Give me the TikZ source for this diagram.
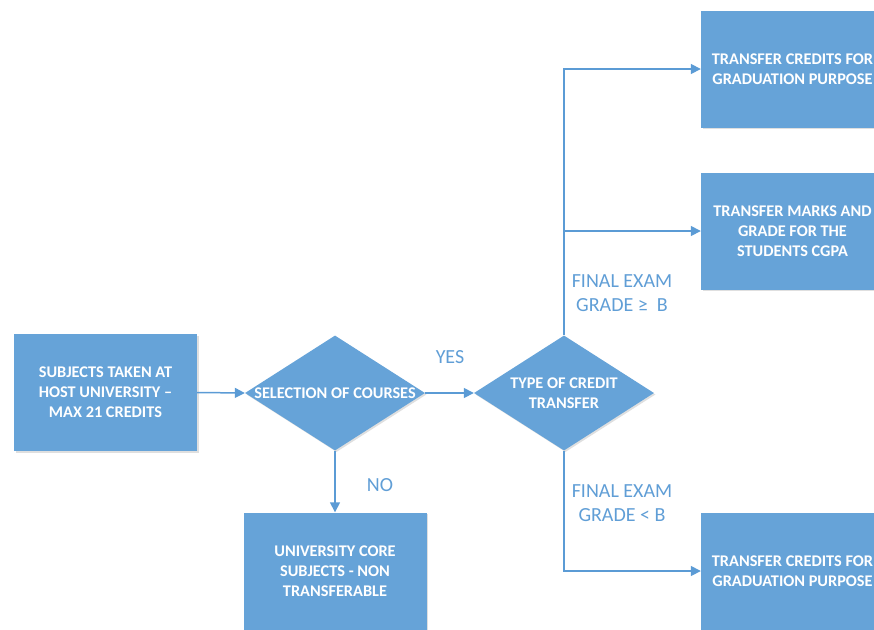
\documentclass[tikz,border=0pt]{standalone}
\usepackage{fontspec}
\setmainfont{Carlito}
\usetikzlibrary{positioning,shapes.geometric,arrows.meta,shadows}
\definecolor{flowblue}{RGB}{91,155,213}
\definecolor{boxblue}{RGB}{102,163,216}
\definecolor{labelblue}{RGB}{96,158,214}

\begin{document}
\begin{tikzpicture}[x=1pt,y=-1pt,
	box/.style={rectangle, fill=boxblue, text=white, minimum width=183pt, minimum height=117pt, align=center, font=\fontsize{16.3}{20}\selectfont\bfseries, drop shadow={shadow xshift=1.5pt, shadow yshift=-1.5pt, opacity=0.25}},
	decision/.style={diamond, fill=boxblue, minimum width=180pt, minimum height=115pt, inner sep=0pt, drop shadow={shadow xshift=1.5pt, shadow yshift=-1.5pt, opacity=0.25}},
	dtext/.style={text=white, align=center, font=\fontsize{16.3}{20}\selectfont\bfseries},
	flow/.style={draw=flowblue, line width=1.5pt, -{Triangle[length=10pt,width=10pt]}},
	cond/.style={text=labelblue, align=center, font=\fontsize{20}{24}\selectfont}]
				\useasboundingbox (0,0) rectangle (874,629);
				\clip (0,0) rectangle (874,629);
				
				\node[box] (subj) at (105.5,392.5) {SUBJECTS TAKEN AT\\HOST UNIVERSITY –\\MAX 21 CREDITS};
				\node[decision] (sel) at (335,393) {};
				\node[dtext] (seltxt) at (sel) {SELECTION OF COURSES};
				\node[decision] (type) at (564,393) {};
				\node[dtext] (typetxt) at (type) {TYPE OF CREDIT\\TRANSFER};
				\node[box] (core) at (335,571) {UNIVERSITY CORE\\SUBJECTS - NON\\TRANSFERABLE};
				\node[box] (credtop) at (792.5,69) {TRANSFER CREDITS FOR\\GRADUATION PURPOSE};
				\node[box] (marks) at (792.5,231) {TRANSFER MARKS AND\\GRADE FOR THE\\STUDENTS CGPA};
				\node[box] (credbot) at (792.5,571) {TRANSFER CREDITS FOR\\GRADUATION PURPOSE};
				
				\node[cond] (yes) at (450,357) {YES};
				\node[cond] (no) at (380,485) {NO};
				\node[cond] (gradehi) at (622,293) {FINAL EXAM\\GRADE ≥~ B};
				\node[cond] (gradelo) at (622,503) {FINAL EXAM\\GRADE < B};
				
				\draw[flow] (subj.east) -- (sel.west);
				\draw[flow] (sel.east) -- (type.west);
				\draw[flow] (sel.south) -- (core.north);
				\draw[flow] (type.north) |- (credtop.west);
				\draw[flow] (type.north) |- (marks.west);
				\draw[flow] (type.south) |- (credbot.west);
\end{tikzpicture}
\end{document}
